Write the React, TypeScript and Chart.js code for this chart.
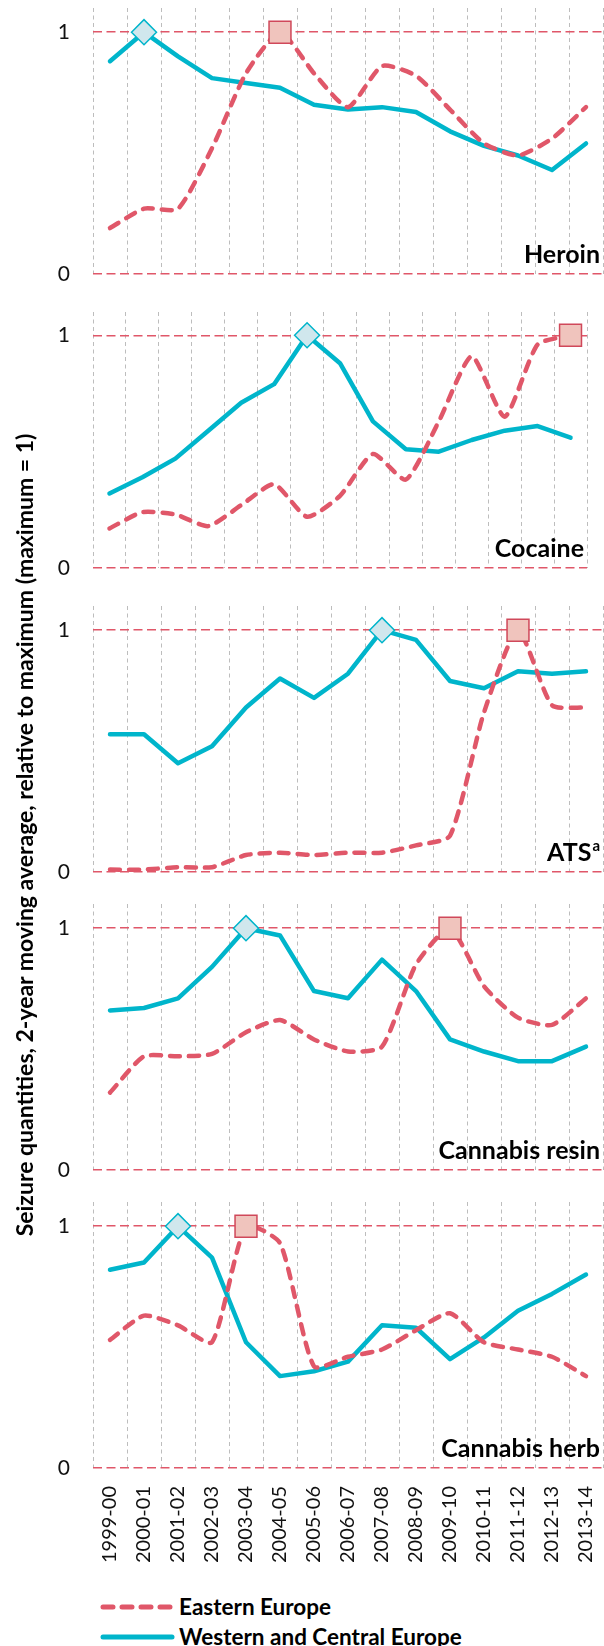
import React, { useEffect, useRef } from 'react';
import { Chart, registerables } from 'chart.js';

Chart.register(...registerables);

const FONT = 'Lato, "Open Sans", sans-serif';

const CATEGORIES = [
  '1999-00', '2000-01', '2001-02', '2002-03', '2003-04', '2004-05', '2005-06', '2006-07',
  '2007-08', '2008-09', '2009-10', '2010-11', '2011-12', '2012-13', '2013-14',
];

const SERIES_NAMES = ['Eastern Europe', 'Western and Central Europe'];
const PANEL_NAMES = ['Heroin', 'Cocaine', 'ATS', 'Cannabis resin', 'Cannabis herb'];
const ATS_NOTE = 'a';
const Y_TITLE = 'Seizure quantities, 2-year moving average, relative to maximum (maximum = 1)';
const Y_TICKS = [0, 1];

const HEROIN_EASTERN = [0.19, 0.27, 0.27, 0.52, 0.83, 1.0, 0.83, 0.69, 0.86, 0.82, 0.68, 0.54, 0.49, 0.56, 0.69];
const HEROIN_WESTERN = [0.88, 1.0, 0.9, 0.81, 0.79, 0.77, 0.7, 0.68, 0.69, 0.67, 0.59, 0.53, 0.49, 0.43, 0.54];
const COCAINE_EASTERN = [0.17, 0.24, 0.23, 0.18, 0.27, 0.36, 0.22, 0.31, 0.49, 0.38, 0.63, 0.91, 0.65, 0.96, 1.0];
const COCAINE_WESTERN = [0.32, 0.39, 0.47, 0.59, 0.71, 0.79, 1.0, 0.88, 0.63, 0.51, 0.5, 0.55, 0.59, 0.61, 0.56];
const ATS_EASTERN = [0.01, 0.01, 0.02, 0.02, 0.07, 0.08, 0.07, 0.08, 0.08, 0.11, 0.15, 0.66, 1.0, 0.69, 0.68];
const ATS_WESTERN = [0.57, 0.57, 0.45, 0.52, 0.68, 0.8, 0.72, 0.82, 1.0, 0.96, 0.79, 0.76, 0.83, 0.82, 0.83];
const RESIN_EASTERN = [0.32, 0.47, 0.47, 0.48, 0.57, 0.62, 0.54, 0.49, 0.51, 0.85, 1.0, 0.76, 0.63, 0.6, 0.71];
const RESIN_WESTERN = [0.66, 0.67, 0.71, 0.84, 1.0, 0.97, 0.74, 0.71, 0.87, 0.74, 0.54, 0.49, 0.45, 0.45, 0.51];
const HERB_EASTERN = [0.53, 0.63, 0.59, 0.52, 1.0, 0.93, 0.42, 0.46, 0.49, 0.57, 0.64, 0.52, 0.49, 0.46, 0.38];
const HERB_WESTERN = [0.82, 0.85, 1.0, 0.87, 0.52, 0.38, 0.4, 0.44, 0.59, 0.58, 0.45, 0.54, 0.65, 0.72, 0.8];

const RED = '#E05769';
const RED_FILL = '#F0C4BD';
const RED_EDGE = '#D0485A';
const CYAN = '#00B5CB';
const CYAN_FILL = '#D0E7ED';
const GREY = '#BDBDBD';

const AREA_H = 266;
const PAD = 12;
const X_AXIS_H = 100;
const BOTTOMS = [274, 573, 872, 1170, 1468];

const PANELS = [
  { name: PANEL_NAMES[0], sup: '', east: HEROIN_EASTERN, west: HEROIN_WESTERN },
  { name: PANEL_NAMES[1], sup: '', east: COCAINE_EASTERN, west: COCAINE_WESTERN },
  { name: PANEL_NAMES[2], sup: ATS_NOTE, east: ATS_EASTERN, west: ATS_WESTERN },
  { name: PANEL_NAMES[3], sup: '', east: RESIN_EASTERN, west: RESIN_WESTERN },
  { name: PANEL_NAMES[4], sup: '', east: HERB_EASTERN, west: HERB_WESTERN },
];

const panelLabelPlugin = {
  id: 'panelLabel',
  afterDatasetsDraw(chart: any, _args: any, opts: any) {
    const { ctx, chartArea } = chart;
    ctx.save();
    ctx.fillStyle = '#000';
    ctx.textAlign = 'right';
    ctx.textBaseline = 'alphabetic';
    let x = chartArea.right - 3;
    const y = chartArea.bottom - 11;
    if (opts.sup) {
      ctx.font = `bold 15px ${FONT}`;
      ctx.fillText(opts.sup, x, y - 10);
      x -= ctx.measureText(opts.sup).width + 1;
    }
    ctx.font = `bold 25px ${FONT}`;
    ctx.fillText(opts.text, x, y);
    ctx.restore();
  },
};

function Panel({ index }: { index: number }) {
  const ref = useRef<HTMLCanvasElement>(null);
  const panel = PANELS[index];
  const showX = index === PANELS.length - 1;
  const height = showX ? AREA_H + PAD + X_AXIS_H : AREA_H + 2 * PAD;
  const top = BOTTOMS[index] - AREA_H - PAD;

  useEffect(() => {
    const chart = new Chart(ref.current as HTMLCanvasElement, {
      type: 'line',
      data: {
        labels: CATEGORIES,
        datasets: [
          {
            label: SERIES_NAMES[0],
            data: panel.east,
            borderColor: RED,
            borderWidth: 4.5,
            borderDash: [10, 9],
            borderCapStyle: 'round',
            borderJoinStyle: 'round',
            tension: 0.2,
            fill: false,
            clip: false as any,
            pointStyle: 'rect',
            pointRadius: (c: any) => (c.raw === 1 ? 15.5 : 0),
            pointBackgroundColor: RED_FILL,
            pointBorderColor: RED_EDGE,
            pointBorderWidth: 1.5,
            pointHoverRadius: 0,
          } as any,
          {
            label: SERIES_NAMES[1],
            data: panel.west,
            borderColor: CYAN,
            borderWidth: 4.5,
            borderJoinStyle: 'round',
            borderCapStyle: 'round',
            tension: 0,
            fill: false,
            clip: false as any,
            pointStyle: 'rectRot',
            pointRadius: (c: any) => (c.raw === 1 ? 12.5 : 0),
            pointBackgroundColor: CYAN_FILL,
            pointBorderColor: CYAN,
            pointBorderWidth: 1.5,
            pointHoverRadius: 0,
          } as any,
        ],
      },
      options: {
        responsive: false,
        animation: false,
        devicePixelRatio: 1,
        layout: { padding: { top: PAD, bottom: showX ? 0 : PAD, left: 0, right: 1 } },
        plugins: {
          legend: { display: false },
          tooltip: { enabled: false },
          panelLabel: { text: panel.name, sup: panel.sup },
        } as any,
        scales: {
          x: {
            type: 'category',
            offset: true,
            grid: { display: true, offset: true, color: GREY, lineWidth: 1, drawTicks: false },
            border: { display: false, dash: [4, 3.5] },
            ticks: {
              display: showX,
              autoSkip: false,
              minRotation: 90,
              maxRotation: 90,
              padding: 18,
              color: '#111',
              font: { family: FONT, size: 20 },
            },
            afterFit: (s: any) => {
              s.height = showX ? X_AXIS_H : 0;
              s.paddingLeft = 0;
              s.paddingRight = 0;
            },
          },
          y: {
            min: 0,
            max: 1.1,
            afterBuildTicks: (s: any) => {
              s.ticks = Y_TICKS.map((v) => ({ value: v }));
            },
            grid: { color: RED, lineWidth: 1.5, drawTicks: false },
            border: { display: false, dash: [9, 4.5] },
            ticks: {
              padding: 23,
              color: '#111',
              font: { family: FONT, size: 21 },
              callback: (v: any) => String(v),
            },
            afterFit: (s: any) => {
              s.width = 93;
              s.paddingTop = 0;
              s.paddingBottom = 0;
            },
          },
        },
      } as any,
      plugins: [panelLabelPlugin],
    });
    return () => chart.destroy();
  }, []);

  return (
    <canvas
      ref={ref}
      width={604}
      height={height}
      style={{ position: 'absolute', left: 0, top, width: 604, height }}
    />
  );
}

function LegendRow({ y, dashed, color, text }: { y: number; dashed: boolean; color: string; text: string }) {
  return (
    <div style={{ position: 'absolute', left: 0, top: y - 16, height: 32, width: 604 }}>
      <svg width={80} height={32} style={{ position: 'absolute', left: 96, top: 0 }}>
        <line
          x1={7}
          y1={16}
          x2={76}
          y2={16}
          stroke={color}
          strokeWidth={5}
          strokeLinecap="round"
          strokeDasharray={dashed ? '10 9' : undefined}
        />
      </svg>
      <div
        style={{
          position: 'absolute',
          left: 179,
          top: 0,
          height: 32,
          lineHeight: '32px',
          fontFamily: FONT,
          fontWeight: 700,
          fontSize: 22.5,
          color: '#000',
          whiteSpace: 'nowrap',
        }}
      >
        {text}
      </div>
    </div>
  );
}

export default function App() {
  return (
    <div
      style={{
        position: 'absolute',
        left: 0,
        top: 0,
        width: 604,
        height: 1646,
        background: '#fff',
        overflow: 'hidden',
      }}
    >
      {PANELS.map((_, i) => (
        <Panel key={i} index={i} />
      ))}
      <div
        style={{
          position: 'absolute',
          left: 24 - 600,
          top: 835 - 16,
          width: 1200,
          height: 32,
          lineHeight: '32px',
          textAlign: 'center',
          transform: 'rotate(-90deg)',
          transformOrigin: '50% 50%',
          fontFamily: FONT,
          fontWeight: 700,
          fontSize: 23,
          color: '#000',
          whiteSpace: 'nowrap',
        }}
      >
        {Y_TITLE}
      </div>
      <LegendRow y={1607} dashed color={RED} text={SERIES_NAMES[0]} />
      <LegendRow y={1637} dashed={false} color={CYAN} text={SERIES_NAMES[1]} />
    </div>
  );
}
